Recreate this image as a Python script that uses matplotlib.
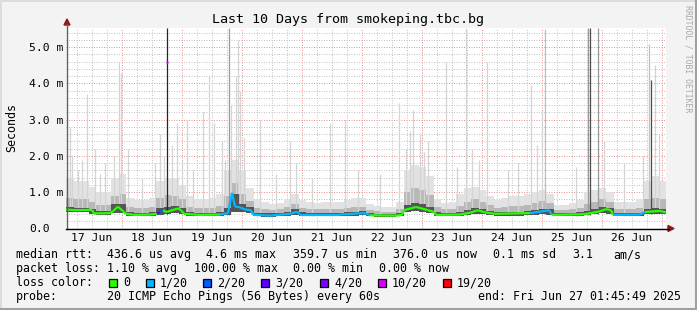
import numpy as np
import matplotlib.pyplot as plt
from matplotlib.collections import LineCollection
from matplotlib.patches import Polygon, Rectangle
from matplotlib.lines import Line2D

# time axis: hours since Jun 17 01:45:49 (end = Jun 27 01:45:49)
first_midnight = 22.236  # Jun 18 00:00
day_labels = ["17 Jun", "18 Jun", "19 Jun", "20 Jun", "21 Jun",
              "22 Jun", "23 Jun", "24 Jun", "25 Jun", "26 Jun"]
y_labels = ["0.0", "1.0 m", "2.0 m", "3.0 m", "4.0 m", "5.0 m"]

# median rtt (ms) vertices and loss level of the segment starting there
median_hours = [0.0, 3.6, 10.4, 11.2, 17.6, 18.8, 20.8, 22.8, 24.0, 27.6, 33.6, 36.4,
                37.6, 38.8, 40.0, 41.6, 44.8, 46.0, 47.2, 53.6, 61.6, 64.8, 66.4, 67.6,
                69.6, 71.6, 74.0, 74.8, 81.6, 89.6, 92.4, 93.6, 109.6, 114.4, 119.6, 121.6,
                131.6, 134.4, 135.2, 140.0, 144.8, 147.2, 148.0, 157.6, 161.6, 164.8, 167.6,
                171.6, 185.6, 191.6, 193.2, 194.4, 207.6, 213.6, 216.0, 218.0, 218.8, 229.6,
                231.6, 237.6, 240.0]
median_ms = [0.52, 0.50, 0.51, 0.41, 0.42, 0.47, 0.60, 0.47, 0.40, 0.37, 0.38, 0.40,
             0.45, 0.50, 0.45, 0.48, 0.55, 0.50, 0.40, 0.37, 0.38, 0.42, 0.98, 0.60,
             0.58, 0.52, 0.50, 0.37, 0.35, 0.40, 0.46, 0.38, 0.38, 0.40, 0.42, 0.36,
             0.35, 0.37, 0.50, 0.59, 0.50, 0.45, 0.37, 0.38, 0.43, 0.50, 0.44,
             0.40, 0.42, 0.48, 0.50, 0.37, 0.39, 0.47, 0.53, 0.50, 0.37, 0.38,
             0.45, 0.48, 0.44]
median_loss = [0, 0, 0, 0, 0, 0, 0, 0, 0, 0, 0, 3,
               2, 0, 0, 0, 0, 0, 0, 0, 1, 1, 1, 1,
               1, 1, 1, 1, 1, 1, 1, 1, 1, 1, 1, 0,
               0, 0, 0, 0, 0, 0, 0, 0, 0, 0, 0,
               0, 1, 1, 1, 0, 0, 0, 0, 0, 1, 1,
               0, 0, 0]
# single-bin median outlier (4.6 ms max at 10/20 loss)
outlier_hour = 40.4
outlier_ms = 4.6

# smoke per 3-hour bin (ms): lowest ping, dense band top, middle band top, light top
smoke_lo = [0.44, 0.44, 0.44, 0.39, 0.37, 0.37, 0.43, 0.42, 0.35, 0.34, 0.34, 0.34, 0.38, 0.40,
            0.42, 0.40, 0.34, 0.33, 0.33, 0.33, 0.34, 0.37, 0.45, 0.44, 0.42, 0.33, 0.32, 0.32,
            0.33, 0.35, 0.38, 0.34, 0.34, 0.34, 0.34, 0.34, 0.34, 0.34, 0.35, 0.36, 0.33, 0.32,
            0.31, 0.31, 0.33, 0.44, 0.47, 0.46, 0.42, 0.34, 0.33, 0.34, 0.34, 0.37, 0.40, 0.39,
            0.36, 0.35, 0.35, 0.35, 0.35, 0.36, 0.38, 0.39, 0.38, 0.33, 0.33, 0.34, 0.34, 0.36,
            0.39, 0.42, 0.40, 0.34, 0.34, 0.34, 0.34, 0.39, 0.40, 0.39]
smoke_dense = [0.58, 0.56, 0.56, 0.52, 0.47, 0.47, 0.66, 0.68, 0.44, 0.42, 0.42, 0.44, 0.56, 0.60,
               0.62, 0.56, 0.44, 0.42, 0.42, 0.42, 0.44, 0.55, 0.95, 0.68, 0.58, 0.42, 0.41, 0.41,
               0.43, 0.46, 0.52, 0.44, 0.43, 0.43, 0.43, 0.43, 0.43, 0.44, 0.46, 0.47, 0.41, 0.40,
               0.39, 0.39, 0.42, 0.64, 0.70, 0.66, 0.58, 0.44, 0.42, 0.43, 0.45, 0.50, 0.56, 0.54,
               0.48, 0.45, 0.45, 0.46, 0.46, 0.48, 0.51, 0.54, 0.52, 0.42, 0.42, 0.43, 0.44, 0.48,
               0.53, 0.58, 0.55, 0.43, 0.43, 0.43, 0.43, 0.52, 0.55, 0.52]
smoke_mid = [0.85, 0.80, 0.80, 0.72, 0.65, 0.65, 0.90, 0.95, 0.58, 0.55, 0.55, 0.58, 0.85, 0.92,
             0.88, 0.80, 0.58, 0.55, 0.55, 0.56, 0.62, 0.90, 1.25, 0.95, 0.75, 0.55, 0.52, 0.50,
             0.52, 0.58, 0.66, 0.56, 0.54, 0.54, 0.54, 0.54, 0.54, 0.56, 0.60, 0.60, 0.50, 0.48,
             0.46, 0.46, 0.52, 1.00, 1.10, 1.05, 0.92, 0.58, 0.52, 0.54, 0.62, 0.74, 0.80, 0.74,
             0.64, 0.56, 0.58, 0.62, 0.62, 0.64, 0.70, 0.75, 0.70, 0.50, 0.50, 0.52, 0.56, 0.66,
             0.74, 0.80, 0.74, 0.54, 0.54, 0.54, 0.56, 0.80, 0.85, 0.80]
smoke_hi = [1.35, 1.30, 1.30, 1.15, 1.00, 1.00, 1.40, 1.50, 0.85, 0.78, 0.78, 0.85, 1.30, 1.40,
            1.40, 1.20, 0.88, 0.82, 0.82, 0.84, 0.95, 1.60, 1.90, 1.60, 1.10, 0.82, 0.72, 0.66,
            0.70, 0.82, 0.95, 0.78, 0.72, 0.70, 0.72, 0.72, 0.74, 0.78, 0.85, 0.85, 0.66, 0.62,
            0.58, 0.58, 0.72, 1.60, 1.75, 1.70, 1.45, 0.82, 0.70, 0.74, 0.95, 1.10, 1.15, 1.05,
            0.88, 0.78, 0.84, 0.90, 0.90, 0.95, 1.00, 1.05, 0.95, 0.64, 0.64, 0.70, 0.78, 1.00,
            1.05, 1.10, 1.00, 0.72, 0.72, 0.74, 0.80, 1.30, 1.45, 1.30]

# isolated tall smoke columns: hour, top (ms), gray level
spike_hours = [1.6, 2.4, 4.8, 6.4, 8.4, 11.6, 13.6, 15.6, 19.2, 21.2, 22.0, 24.8, 30.4,
               35.6, 37.6, 39.2, 40.4, 42.4, 44.4, 46.4, 48.4, 50.8, 54.8, 57.2, 59.2,
               62.4, 63.6, 65.2, 66.0, 68.0, 68.8, 69.6, 71.2, 77.6, 84.0, 89.6, 92.0,
               98.4, 105.6, 111.6, 116.8, 125.6, 133.2, 136.0, 137.6, 138.8, 141.6, 143.2,
               144.8, 152.0, 156.4, 160.0, 162.4, 165.2, 168.4, 176.8, 180.8, 186.0,
               188.4, 190.4, 191.6, 204.0, 208.8, 209.6, 212.8, 215.2, 223.2, 230.8,
               233.2, 234.0, 235.6, 237.2]
spike_tops = [2.8, 2.0, 1.6, 1.9, 3.7, 2.2, 1.5, 1.8, 2.0, 4.6, 4.3, 2.2, 1.4,
              1.8, 2.6, 2.0, 5.54, 2.3, 2.9, 1.9, 3.0, 1.6, 3.2, 4.2, 2.9,
              2.4, 1.9, 5.54, 3.4, 4.2, 5.2, 3.8, 2.5, 3.0, 1.5, 2.4, 1.8,
              1.4, 2.9, 3.0, 1.6, 1.5, 3.45, 2.2, 2.7, 3.26, 2.6, 2.1,
              2.4, 4.6, 1.7, 5.54, 2.2, 1.9, 4.6, 1.6, 1.8, 3.96,
              2.3, 3.26, 5.5, 1.7, 5.54, 5.54, 5.54, 2.4, 1.8, 2.0,
              5.1, 4.1, 4.5, 2.6]
spike_gray = [0.83, 0.83, 0.83, 0.83, 0.83, 0.83, 0.83, 0.83, 0.83, 0.83, 0.83, 0.83, 0.83,
              0.83, 0.83, 0.83, 0.15, 0.83, 0.83, 0.83, 0.83, 0.83, 0.83, 0.83, 0.83,
              0.83, 0.83, 0.6, 0.83, 0.83, 0.83, 0.83, 0.83, 0.83, 0.83, 0.83, 0.83,
              0.83, 0.83, 0.83, 0.83, 0.83, 0.83, 0.83, 0.83, 0.83, 0.83, 0.83,
              0.83, 0.83, 0.83, 0.83, 0.83, 0.83, 0.83, 0.83, 0.83, 0.83,
              0.83, 0.83, 0.75, 0.83, 0.6, 0.3, 0.6, 0.83, 0.83, 0.83,
              0.75, 0.3, 0.83, 0.83]

loss_colors = ["#26ff00", "#00b8ff", "#0059ff", "#5e00ff", "#7e00ff", "#dd00ff", "#ff0000"]
loss_names = ["0", "1/20", "2/20", "3/20", "4/20", "10/20", "19/20"]

W, H = 697, 310
FONT = "DejaVu Sans Mono"
plt.rcParams["font.family"] = FONT


def fx(px):
    return px / W


def fy(py):
    return 1 - py / H


fig = plt.figure(figsize=(W / 100, H / 100), dpi=100)
fig.patch.set_facecolor("#f3f3f3")

x_left, x_right, y_top, y_bot = 66.0, 666.0, 27.7, 228.3
ax = fig.add_axes([fx(x_left), fy(y_bot), (x_right - x_left) / W, (y_bot - y_top) / H])
ax.set_facecolor("white")
ax.set_xlim(0, 240)
ax.set_ylim(0, 5.54)
for s in ax.spines.values():
    s.set_visible(False)

# faint dotted grid
dot = (0, (1, 1.5))
grid_kw = dict(lw=0.72, ls=dot, zorder=0)
for v in np.arange(0.2, 5.5, 0.2):
    if abs(v - round(v)) > 1e-6:
        ax.axhline(v, color="#c4c4c4", **grid_kw)
for v in range(1, 6):
    ax.axhline(v, color="#e89292", **grid_kw)
for h in np.arange(first_midnight - 18, 240, 6):
    if abs((h - first_midnight) % 24) > 1e-6:
        ax.axvline(h, color="#c4c4c4", **grid_kw)
for h in np.arange(first_midnight, 240, 24):
    ax.axvline(h, color="#e89292", **grid_kw)

# smoke
edges = np.arange(0, 241, 3)


def ext(a):
    return np.append(a, a[-1])


ax.fill_between(edges, ext(smoke_lo), ext(smoke_hi), step="post", color="#e2e2e2", lw=0, zorder=1)
ax.fill_between(edges, ext(smoke_lo), ext(smoke_mid), step="post", color="#b8b8b8", lw=0, zorder=2)
ax.fill_between(edges, ext(smoke_lo), ext(smoke_dense), step="post", color="#555555", lw=0, zorder=3)

bin_idx = np.minimum((np.array(spike_hours) // 3).astype(int), 79)
for h, top, g, b in zip(spike_hours, spike_tops, spike_gray, bin_idx):
    ax.vlines(h, smoke_lo[b], top, color=str(g), lw=0.9, zorder=2 if g > 0.5 else 4)

# median coloured by loss
pts = np.column_stack([median_hours, median_ms])
segs = np.stack([pts[:-1], pts[1:]], axis=1)
lc = LineCollection(segs, colors=[loss_colors[l] for l in median_loss[:-1]], lw=1.6, zorder=5)
ax.add_collection(lc)
ax.plot([outlier_hour], [outlier_ms], marker="s", ms=2, color=loss_colors[5], mec="none", zorder=6)

# ticks
ax.set_yticks(range(6))
ax.set_yticklabels(y_labels, ha="left", fontsize=8.2)
ax.tick_params(axis="y", length=0, pad=(x_left - 29) * 0.72)
noons = first_midnight - 12 + 24 * np.arange(10)
ax.set_xticks(noons)
ax.set_xticklabels(day_labels, fontsize=8.2)
ax.tick_params(axis="x", length=0, pad=3.5)
ax.set_ylabel("Seconds", fontsize=8.4, labelpad=8)

# axis lines with arrows
fig.add_artist(Line2D([fx(67), fx(67)], [fy(228.5), fy(24)], color="#606060", lw=1.0))
fig.add_artist(Line2D([fx(66), fx(669)], [fy(228.5), fy(228.5)], color="black", lw=1.0))
fig.add_artist(Polygon([[fx(64), fy(25)], [fx(70), fy(25)], [fx(67), fy(19)]],
                       closed=True, color="#8b1a1a", transform=fig.transFigure))
fig.add_artist(Polygon([[fx(668), fy(225.5)], [fx(668), fy(231.5)], [fx(674), fy(228.5)]],
                       closed=True, color="#8b1a1a", transform=fig.transFigure))

# frame
fig.add_artist(Line2D([0, 1], [fy(0.5), fy(0.5)], color="#dcdcdc", lw=1.4))
fig.add_artist(Line2D([fx(0.5), fx(0.5)], [0, 1], color="#dcdcdc", lw=1.4))
fig.add_artist(Line2D([0, 1], [fy(309), fy(309)], color="#a0a0a0", lw=2.2))
fig.add_artist(Line2D([fx(696), fx(696)], [0, 1], color="#a0a0a0", lw=2.2))

fig.text(fx(347.5), fy(20), "Last 10 Days from smokeping.tbc.bg", ha="center", va="center",
         fontsize=9.6)
fig.text(fx(688), fy(5), "RRDTOOL / TOBI OETIKER", rotation=-90, ha="center", va="top",
         fontsize=5.9, color="#a8a8a8")

# legend
fs = 8.4
rows = [
    (258, [(16, "median rtt:"), (107, "436.6 us avg"), (206.5, "4.6 ms max"),
           (293, "359.7 us min"), (393, "376.0 us now"), (493, "0.1 ms sd"),
           (572, "3.1"), (613.5, "am/s")]),
    (272, [(16, "packet loss:"), (107, "1.10 % avg"), (194, "100.00 % max"),
           (293, "0.00 % min"), (379, "0.00 % now")]),
    (286, [(16, "loss color:")]),
    (300, [(16, "probe:"), (107, "20 ICMP Echo Pings (56 Bytes) every 60s"),
           (478, "end: Fri Jun 27 01:45:49 2025")]),
]
for y, items in rows:
    for x, s in items:
        fig.text(fx(x), fy(y), s, ha="left", va="baseline", fontsize=fs)

box_x = [108.5, 145.5, 203, 261, 320, 377.5, 442.5]
for bx, c, name in zip(box_x, loss_colors, loss_names):
    fig.add_artist(Rectangle((fx(bx), fy(286.5)), 8 / W, 8 / H, facecolor=c,
                             edgecolor="black", lw=0.9, transform=fig.transFigure))
    fig.text(fx(bx + 14.5), fy(286), name, ha="left", va="baseline", fontsize=fs)

fig.savefig("out.png", dpi=100, facecolor=fig.get_facecolor())
